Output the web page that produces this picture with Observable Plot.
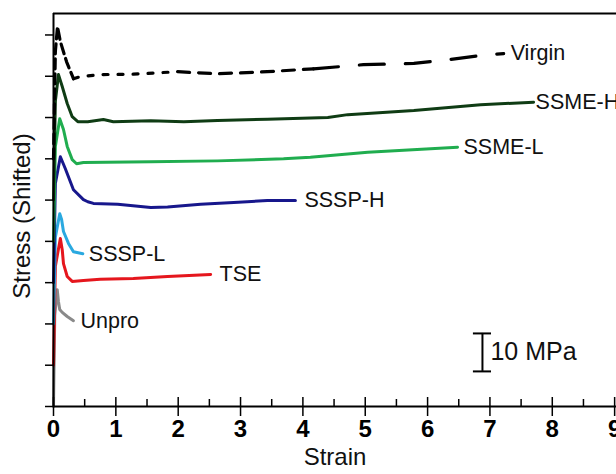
<!DOCTYPE html>
<html><head><meta charset="utf-8">
<script src="https://cdn.jsdelivr.net/npm/d3@7"></script>
<script src="https://cdn.jsdelivr.net/npm/@observablehq/plot@0.6"></script>
<style>
html,body{margin:0;padding:0;background:#fff;overflow:hidden}
</style>
</head><body><div id="chart"></div>
<script>
// ---- data (strain, stress shifted; y-ticks every 10 units) ----
const seriesNames = ["Unpro", "TSE", "SSSP-L", "SSSP-H", "SSME-L", "SSME-H", "Virgin"];

const unproStrain = [0, 0.02, 0.06, 0.08, 0.10, 0.14, 0.22, 0.32];
const unproStress = [0, 22, 28.3, 25.4, 23.5, 22.8, 21.8, 20.8];

const tseStrain = [0, 0.03, 0.11, 0.14, 0.16, 0.22, 0.30, 0.48, 0.75, 1.28, 1.83, 2.52];
const tseStress = [10, 34, 40.7, 38.0, 34.6, 31.5, 30.3, 30.5, 30.8, 31.0, 31.5, 32.0];

const ssspLStrain = [0, 0.03, 0.10, 0.13, 0.16, 0.24, 0.32, 0.47];
const ssspLStress = [20, 41, 46.7, 45.3, 42.4, 39.5, 37.5, 37.0];

const ssspHStrain = [0, 0.03, 0.11, 0.19, 0.32, 0.48, 0.55, 0.64, 1.03, 1.56, 1.83, 2.36, 2.89, 3.43, 3.88];
const ssspHStress = [30, 54, 60.5, 57.6, 52.5, 50.1, 49.6, 49.2, 49.0, 48.2, 48.3, 49.0, 49.4, 49.9, 49.9];

const ssmeLStrain = [0, 0.03, 0.10, 0.16, 0.22, 0.30, 0.37, 0.48, 1.56, 2.63, 3.69, 4.12, 5.04, 6.48];
const ssmeLStress = [40, 63, 69.7, 67.1, 63.0, 59.8, 58.8, 59.1, 59.3, 59.5, 60.0, 60.4, 61.6, 62.8];

const ssmeHStrain = [0, 0.03, 0.08, 0.14, 0.22, 0.30, 0.39, 0.55, 0.80, 0.96, 1.56, 2.09, 2.63, 3.43, 4.40, 4.72, 5.78, 6.85, 7.70];
const ssmeHStress = [50, 74, 80.4, 77.5, 73.4, 70.2, 69.0, 69.0, 69.5, 69.0, 69.2, 69.0, 69.3, 69.6, 70.0, 70.7, 71.7, 73.1, 73.7];

const virginStrain = [0, 0.03, 0.064, 0.11, 0.21, 0.32, 0.43, 0.75, 1.28, 1.99, 2.63, 3.43, 4.17, 4.97, 5.78, 6.32, 6.85, 7.22];
const virginStress = [60, 86, 92.0, 88.4, 83.5, 79.4, 79.9, 80.4, 80.5, 81.1, 80.6, 81.1, 81.8, 82.8, 83.1, 84.0, 85.0, 85.5];

const xTickValues = [0, 1, 2, 3, 4, 5, 6, 7, 8, 9];
const xMinorTickValues = [0.5, 1.5, 2.5, 3.5, 4.5, 5.5, 6.5, 7.5, 8.5];
const yTickValues = [0, 10, 20, 30, 40, 50, 60, 70, 80, 90];
const xDomain = [0, 9.03];
const yDomain = [0, 95.2];

const scaleBarStrain = [6.88];
const scaleBarStress = [8.5, 17.7];
const scaleBarLabel = "10 MPa";

// ---- build tables ----
const strains = [unproStrain, tseStrain, ssspLStrain, ssspHStrain, ssmeLStrain, ssmeHStrain, virginStrain];
const stresses = [unproStress, tseStress, ssspLStress, ssspHStress, ssmeLStress, ssmeHStress, virginStress];
const table = seriesNames.map((name, i) => strains[i].map((s, j) => ({series: name, strain: s, stress: stresses[i][j]})));

const colors = {"Unpro": "#8a8a8a", "TSE": "#e5161d", "SSSP-L": "#2aa9e0", "SSSP-H": "#17178c", "SSME-L": "#20ad4f", "SSME-H": "#0f3c14", "Virgin": "#000000"};
const labelDx = {"Unpro": 7, "TSE": 9, "SSSP-L": 6, "SSSP-H": 9, "SSME-L": 6, "SSME-H": 2, "Virgin": 7};

const virgin = table[6];
const seg = (a, b) => virgin.filter(d => d.strain >= a && d.strain <= b);

const marks = [];
// series lines (drawing order bottom to top)
for (let i = 0; i < 6; i++) {
  marks.push(Plot.line(table[i], {x: "strain", y: "stress", stroke: colors[seriesNames[i]], strokeWidth: 3, strokeLinejoin: "round", strokeLinecap: "round"}));
}
marks.push(Plot.line(seg(0, 0.32), {x: "strain", y: "stress", stroke: "#000", strokeWidth: 3.2, strokeDasharray: "10,5"}));
marks.push(Plot.line(seg(0.32, 1.99), {x: "strain", y: "stress", stroke: "#000", strokeWidth: 3.2, strokeDasharray: "5,10"}));
marks.push(Plot.line(seg(1.99, 4.17), {x: "strain", y: "stress", stroke: "#000", strokeWidth: 3.2, strokeDasharray: "12,9"}));
marks.push(Plot.line(seg(4.17, 8), {x: "strain", y: "stress", stroke: "#000", strokeWidth: 3.2, strokeDasharray: "25,21"}));

// series labels at the end of each curve
for (const rows of table) {
  const last = rows[rows.length - 1];
  marks.push(Plot.text([last], {x: "strain", y: "stress", text: "series", textAnchor: "start", dx: labelDx[last.series], fontSize: 21.5, fill: "#111"}));
}

// axes
marks.push(Plot.axisY({ticks: yTickValues, tickSize: 8, tickFormat: () => "", strokeWidth: 1.5}));
marks.push(Plot.axisX({ticks: xTickValues, tickSize: 10, tickPadding: 3, fontSize: 24, fontWeight: "bold", strokeWidth: 1.5}));
marks.push(Plot.ruleX(xTickValues, {x: d => d, insetTop: 384, strokeWidth: 1.5}));
marks.push(Plot.ruleX(xMinorTickValues, {x: d => d, insetTop: 386, strokeWidth: 1.5}));
marks.push(Plot.ruleY([yDomain[0]], {strokeWidth: 2}));
marks.push(Plot.ruleY([yDomain[1]], {strokeWidth: 2}));
marks.push(Plot.ruleX([xDomain[0]], {strokeWidth: 2}));

// scale bar
marks.push(Plot.ruleX(scaleBarStrain, {x: d => d, y1: scaleBarStress[0], y2: scaleBarStress[1], strokeWidth: 2}));
marks.push(Plot.ruleY(scaleBarStress, {y: d => d, x1: scaleBarStrain[0] - 0.145, x2: scaleBarStrain[0] + 0.145, strokeWidth: 2}));
marks.push(Plot.text([scaleBarLabel], {x: scaleBarStrain[0], y: (scaleBarStress[0] + scaleBarStress[1]) / 2, text: d => d, textAnchor: "start", dx: 8, fontSize: 25, fill: "#111"}));

// axis titles
marks.push(Plot.text(["Strain"], {frameAnchor: "bottom", dy: 58, text: d => d, fontSize: 24, fill: "#111"}));
marks.push(Plot.text(["Stress (Shifted)"], {x: xDomain[0], y: (yDomain[0] + yDomain[1]) / 2, textAnchor: "middle", lineAnchor: "middle", dx: -31, dy: 6, rotate: -90, text: d => d, fontSize: 24, fill: "#111"}));

const chart = Plot.plot({
  width: 616,
  height: 474,
  marginLeft: 53,
  marginRight: 0,
  marginTop: 13,
  marginBottom: 68,
  style: {fontFamily: "'Liberation Sans', Arial, sans-serif", background: "#fff", color: "#000", overflow: "visible"},
  x: {domain: xDomain, axis: null, label: null},
  y: {domain: yDomain, axis: null, label: null},
  marks
});
document.getElementById("chart").appendChild(chart);
</script>
</body></html>
